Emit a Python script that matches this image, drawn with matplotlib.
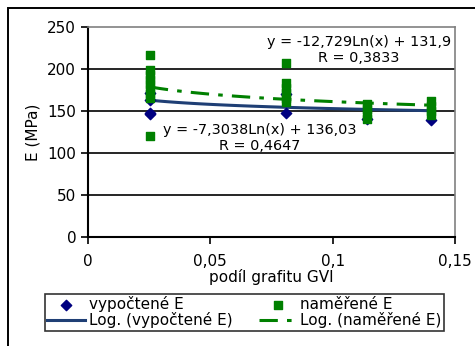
import numpy as np
import matplotlib
matplotlib.use("Agg")
import matplotlib.pyplot as plt
from matplotlib.ticker import FuncFormatter

plt.rcParams['font.family'] = ['DejaVu Sans']

# vypočtené E (computed)
x_vyp = [0.0253, 0.0253, 0.0253, 0.0253, 0.0808, 0.0808, 0.114, 0.140]
e_vyp = [171, 163, 148, 147, 170, 148, 140, 139]

# naměřené E (measured)
x_nam = [0.0253] * 9 + [0.0808] * 6 + [0.114] * 4 + [0.140] * 4
e_nam = [217, 199, 193, 187, 182, 176, 170, 165, 120,
         207, 183, 177, 172, 166, 161,
         158, 152, 146, 140,
         162, 156, 150, 145]

# log trend coefficients (from chart labels)
a_vyp, b_vyp = -7.3038, 136.03
a_nam, b_nam = -12.729, 131.9

x_ticks = [0, 0.05, 0.1, 0.15]
y_ticks = [0, 50, 100, 150, 200, 250]

W, H = 475, 346
fig = plt.figure(figsize=(W / 100, H / 100), dpi=100)
# outer chart border (runs off the right/bottom edge like the reference)
fig.patches.append(plt.Rectangle((7.5 / W, -0.05), 1.2, 1 - 7.5 / H + 0.05,
                                 transform=fig.transFigure, fill=False,
                                 edgecolor='black', linewidth=1.4))
ax = fig.add_axes([88 / W, 1 - 237 / H, (455 - 88) / W, (237 - 27) / H])

for y in y_ticks[1:-1]:
    ax.axhline(y, color='black', linewidth=1.2, zorder=0)

xs = np.linspace(min(x_vyp), max(x_vyp), 100)
ax.scatter(x_vyp, e_vyp, marker='D', s=28, color='#000080', zorder=3, label='vypočtené E')
ax.plot(xs, a_vyp * np.log(xs) + b_vyp, color='#1f3f75', linewidth=2.2, zorder=2,
        label='Log. (vypočtené E)')
ax.scatter(x_nam, e_nam, marker='s', s=40, color='#008000', zorder=4, label='naměřené E')
ax.plot(xs, a_nam * np.log(xs) + b_nam, color='#008000', linewidth=2.2, zorder=2,
        dashes=(6, 3, 1.5, 3), label='Log. (naměřené E)')

ax.set_xlim(0, 0.15)
ax.set_ylim(0, 250)
ax.set_xticks(x_ticks)
ax.set_yticks(y_ticks)
ax.xaxis.set_major_formatter(FuncFormatter(lambda v, p: ('%g' % v).replace('.', ',')))
ax.tick_params(direction='out', length=5, width=1.2, labelsize=11, colors='black')
ax.tick_params(axis='x', pad=7)

for side in ['top', 'right']:
    ax.spines[side].set_color('#808080')
    ax.spines[side].set_linewidth(1.2)
for side in ['left', 'bottom']:
    ax.spines[side].set_linewidth(1.5)

ax.set_xlabel('podíl grafitu GVI', fontsize=11, labelpad=0)
ax.set_ylabel('E (MPa)', fontsize=11, labelpad=5)

ax.text(0.1106, 232, 'y = -12,729Ln(x) + 131,9', fontsize=10.4, ha='center', va='center')
ax.text(0.1106, 213, 'R = 0,3833', fontsize=10.4, ha='center', va='center')
ax.text(0.0700, 127, 'y = -7,3038Ln(x) + 136,03', fontsize=10.4, ha='center', va='center')
ax.text(0.0700, 108, 'R = 0,4647', fontsize=10.4, ha='center', va='center')

h, l = ax.get_legend_handles_labels()
leg = fig.legend(h, l, ncol=2, loc='upper left',
                 bbox_to_anchor=(45 / W, 1 - 335 / H, (444 - 45) / W, 41 / H),
                 mode='expand', fontsize=11,
                 frameon=True, fancybox=False, edgecolor='black', borderpad=0.15,
                 labelspacing=0.0, columnspacing=1.3, handlelength=2.5, handletextpad=0.2,
                 borderaxespad=0)
leg.get_frame().set_linewidth(1.2)

fig.savefig('out.png', dpi=100)
